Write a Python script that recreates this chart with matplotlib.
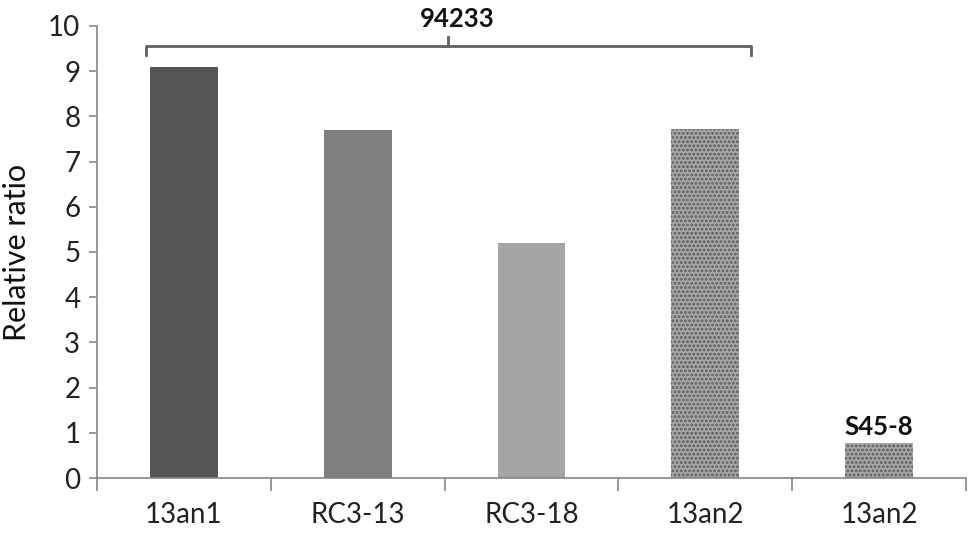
import matplotlib.pyplot as plt
import numpy as np

# data
labels = ['13an1', 'RC3-13', 'RC3-18', '13an2', '13an2']
values = [9.1, 7.7, 5.2, 7.73, 0.78]
colors = ['#555555', '#7f7f7f', '#a5a5a5', '#a8a8a8', '#a8a8a8']
hatches = [None, None, None, '....', '....']

plt.rcParams['font.family'] = ['Lato', 'DejaVu Sans']
plt.rcParams['hatch.linewidth'] = 1.4

fig = plt.figure(figsize=(9.74, 5.35), dpi=100)
ax = fig.add_axes([0.0996, 0.1065, 0.8922, 0.845])

x = np.arange(len(labels))
bars = ax.bar(x, values, width=0.39, color=colors, linewidth=0)
for b, h in zip(bars, hatches):
    if h:
        b.set_hatch(h)
        b.set_edgecolor('#5c5c5c')

ax.set_xlim(-0.5, 4.5)
ax.set_ylim(0, 10)
ax.set_yticks(range(0, 11))
ax.set_xticks(x)
ax.set_xticklabels(labels)
ax.set_xticks(np.arange(-0.5, 5, 1), minor=True)
ax.tick_params(axis='x', which='major', length=0, pad=17, labelsize=20, colors='#222222')
ax.tick_params(axis='x', which='minor', length=9, color='#868686', width=1.2)
ax.tick_params(axis='y', length=6, color='#868686', width=1.2, labelsize=20,
               labelcolor='#222222', pad=6)
ax.set_ylabel('Relative ratio', fontsize=22, color='#111111', labelpad=12)

for s in ['top', 'right']:
    ax.spines[s].set_visible(False)
for s in ['left', 'bottom']:
    ax.spines[s].set_color('#868686')
    ax.spines[s].set_linewidth(1.2)

# group bracket for 94233
bx0, bx1, by, bmid = -0.22, 3.26, 9.56, 1.52
ax.plot([bx0, bx0, bx1, bx1], [by - 0.2, by, by, by - 0.2], color='#606060', lw=2,
        clip_on=False, solid_joinstyle='round')
ax.plot([bmid, bmid], [by, by + 0.2], color='#606060', lw=2, clip_on=False)
ax.text(bmid + 0.05, 10.16, '94233', ha='center', va='center', fontsize=18.5,
        fontweight='bold', color='#111111', clip_on=False)
ax.text(4, 1.13, 'S45-8', ha='center', va='center', fontsize=18.5,
        fontweight='bold', color='#111111')

fig.savefig('out.png', dpi=100)
